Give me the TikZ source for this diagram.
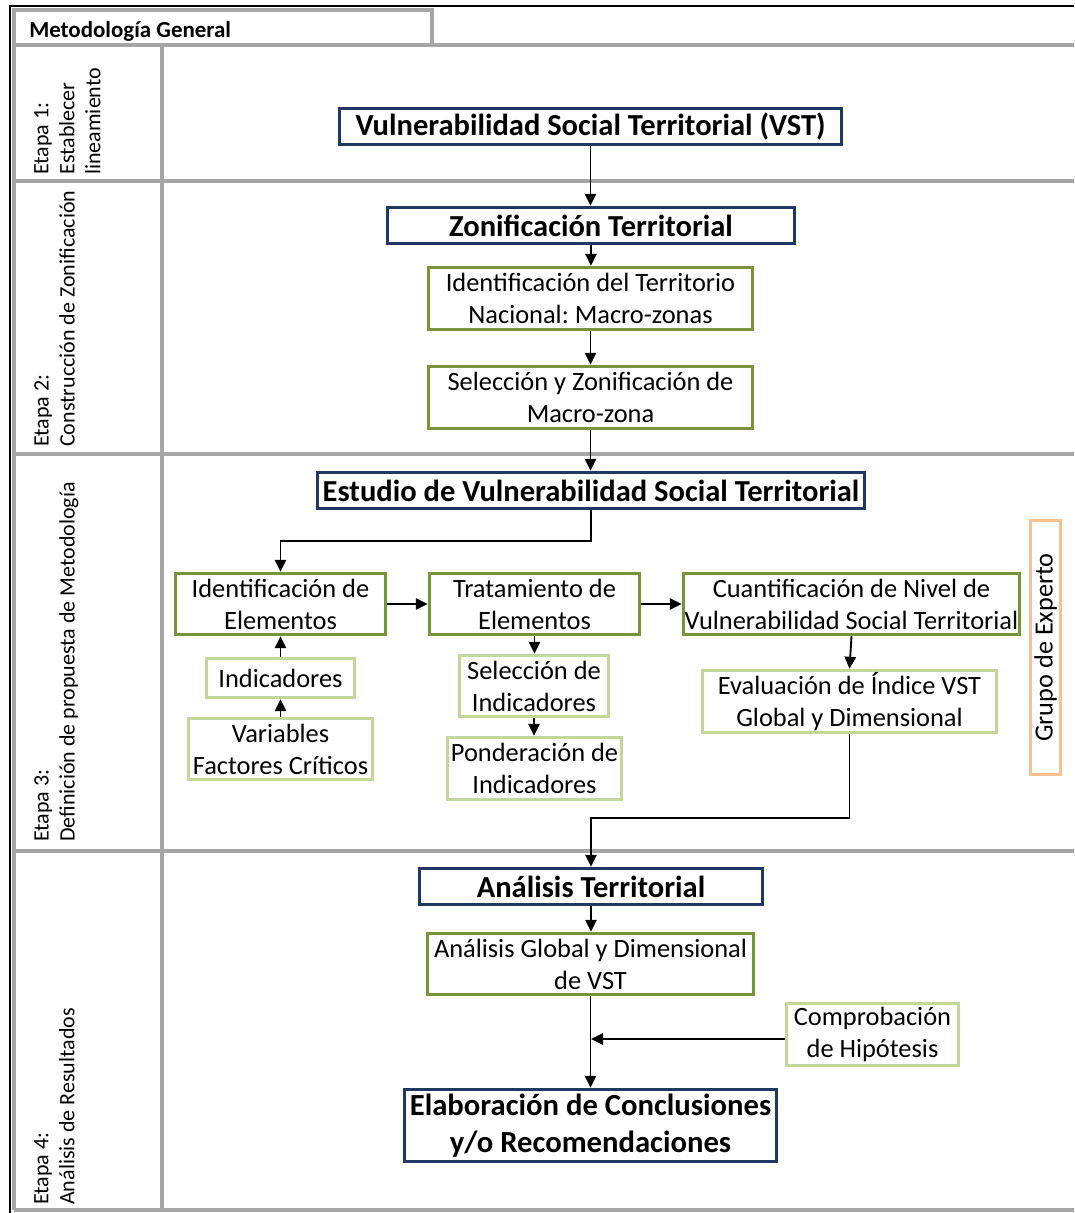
\documentclass[tikz,border=0pt]{standalone}
\usepackage{fontspec}
\setmainfont{Carlito}
\frenchspacing
\usetikzlibrary{arrows.meta,calc}
\definecolor{bluec}{HTML}{1F3864}
\definecolor{greenc}{HTML}{77933C}
\definecolor{lgreenc}{HTML}{C3D69B}
\definecolor{orangec}{HTML}{FAC090}
\definecolor{grayc}{HTML}{A6A6A6}
\tikzset{
  box/.style={rectangle, inner sep=0pt, align=center, fill=white, line width=2.6pt},
  bluebox/.style={box, draw=bluec, font=\fontsize{22.9}{27}\selectfont\bfseries},
  greenbox/.style={box, draw=greenc, font=\fontsize{19.8}{24}\selectfont},
  lgreenbox/.style={box, draw=lgreenc, font=\fontsize{19.8}{24}\selectfont},
  orangebox/.style={box, draw=orangec, font=\fontsize{19.7}{24}\selectfont},
  arr/.style={-{Triangle[length=9pt,width=8.5pt]}, line width=1.4pt, black},
  gridline/.style={grayc, line width=3pt},
  stagetext/.style={rotate=90, anchor=north west, inner sep=0pt, align=left, font=\fontsize{16.5}{19.5}\selectfont},
}
\begin{document}
\begin{tikzpicture}[x=0.75pt, y=-0.75pt]
\useasboundingbox (0,0) rectangle (1074,1213);
% frame
\draw[line width=1.5pt, black] (10,1213) -- (10,6) -- (1074,6);
\draw[gridline] (14,1210) -- (14,10) -- (432,10) -- (432,45);
\draw[gridline] (14,45) -- (1074,45);
\draw[gridline] (14,181) -- (1074,181);
\draw[gridline] (14,454) -- (1074,454);
\draw[gridline] (14,851) -- (1074,851);
\draw[gridline] (14,1210) -- (1074,1210);
\draw[gridline] (162,45) -- (162,1210);
\node[anchor=west, inner sep=0pt, font=\fontsize{17.2}{20}\selectfont\bfseries] (title) at (29,31) {Metodología General};
% stage labels
\node[stagetext] (s1) at (34,175) {Etapa 1:\\Establecer\\lineamiento};
\node[stagetext] (s2) at (34,447) {Etapa 2:\\Construcción de Zonificación};
\node[stagetext] (s3) at (34,842) {Etapa 3:\\Definición de propuesta de Metodología};
\node[stagetext] (s4) at (34,1205) {Etapa 4:\\Análisis de Resultados};
% nodes
\node[bluebox, minimum width=376.5pt, minimum height=27pt] (vst) at (590.5,126.5) {Vulnerabilidad Social Territorial (VST)};
\node[bluebox, minimum width=305pt, minimum height=27pt] (zon) at (591,225.5) {Zonificación Territorial};
\node[greenbox, minimum width=243pt, minimum height=46.5pt] (idt) at (590.5,298.5) {Identificación del Territorio\\Nacional: Macro-zonas};
\node[greenbox, minimum width=243pt, minimum height=46.5pt] (selz) at (590.5,397.5) {Selección y Zonificación de\\Macro-zona};
\node[bluebox, minimum width=410pt, minimum height=27pt] (est) at (591,490.5) {Estudio de Vulnerabilidad Social Territorial};
\node[greenbox, minimum width=157.5pt, minimum height=45.75pt] (ide) at (280.5,604) {Identificación de\\Elementos};
\node[greenbox, minimum width=157.5pt, minimum height=45.75pt] (trat) at (534.5,604) {Tratamiento de\\Elementos};
\node[greenbox, minimum width=252pt, minimum height=45.75pt] (cuan) at (851.5,604) {Cuantificación de Nivel de\\Vulnerabilidad Social Territorial};
\node[lgreenbox, minimum width=111pt, minimum height=29.25pt] (ind) at (280.5,678) {Indicadores};
\node[lgreenbox, minimum width=138pt, minimum height=45.75pt] (var) at (280.5,749) {Variables\\Factores Críticos};
\node[lgreenbox, minimum width=111.75pt, minimum height=45.75pt] (seli) at (534,686) {Selección de\\Indicadores};
\node[lgreenbox, minimum width=130.5pt, minimum height=46.5pt] (pond) at (534.5,768.5) {Ponderación de\\Indicadores};
\node[lgreenbox, minimum width=220.5pt, minimum height=46.5pt] (eval) at (849.5,701.5) {Evaluación de Índice VST\\Global y Dimensional};
\node[orangebox, rotate=90, minimum width=190.5pt, minimum height=22.5pt] (grupo) at (1045.5,647.5) {Grupo de Experto};
\node[bluebox, minimum width=257.25pt, minimum height=27pt] (ant) at (591,886.5) {Análisis Territorial};
\node[greenbox, minimum width=244.5pt, minimum height=45.75pt] (ang) at (590.5,964) {Análisis Global y Dimensional\\de VST};
\node[lgreenbox, minimum width=129pt, minimum height=46.5pt] (comp) at (872.5,1034.5) {Comprobación\\de Hipótesis};
\node[bluebox, minimum width=279pt, minimum height=54pt, font=\fontsize{23}{27.75}\selectfont\bfseries] (elab) at (590.5,1125.5) {Elaboración de Conclusiones\\y/o Recomendaciones};
% connectors
\draw[arr] (vst.south) -- (vst.south |- zon.north);
\draw[arr] (zon.south) -- (zon.south |- idt.north);
\draw[arr] (idt.south) -- (selz.north);
\draw[arr] (selz.south) -- (selz.south |- est.north);
\draw[arr] (est.south) -- ++(0,31) -| (ide.north);
\draw[arr] (ide.east) -- (trat.west);
\draw[arr] (trat.east) -- (cuan.west);
\draw[arr] (ind.north) -- (ide.south);
\draw[arr] (var.north) -- (ind.south);
\draw[arr] (trat.south) -- (trat.south |- seli.north);
\draw[arr] (seli.south) -- (seli.south |- pond.north);
\draw[arr] (cuan.south) -- (eval.north);
\draw[arr] (eval.south) -- ++(0,84) -| (ant.north);
\draw[arr] (ant.south) -- (ant.south |- ang.north);
\draw[arr] (ang.south) -- (ang.south |- elab.north);
\coordinate (hj) at (591,1039);
\draw[arr] (comp.west |- hj) -- (hj);
\end{tikzpicture}
\end{document}
